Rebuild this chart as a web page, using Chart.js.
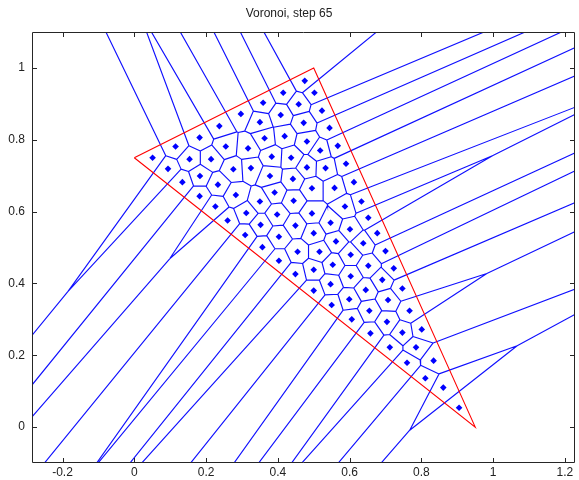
<!DOCTYPE html>
<html>
<head>
<meta charset="utf-8">
<script src="https://cdn.jsdelivr.net/npm/chart.js@4.4.0/dist/chart.umd.min.js"></script>
<style>
  html, body { margin: 0; padding: 0; background: #fff; }
</style>
</head>
<body>
<canvas id="chartVoronoi" width="579" height="480"></canvas>
<script>
// generator points (data units)
const siteX = [0.051, 0.115, 0.182, 0.237, 0.297, 0.359, 0.415, 0.475, 0.502, 0.458,
               0.523, 0.408, 0.350, 0.472, 0.094, 0.154, 0.214, 0.255, 0.183, 0.134,
               0.233, 0.276, 0.419, 0.363, 0.481, 0.317, 0.383, 0.437, 0.518, 0.325,
               0.481, 0.533, 0.442, 0.495, 0.544, 0.567, 0.590, 0.612, 0.182, 0.283,
               0.226, 0.312, 0.260, 0.309, 0.391, 0.558, 0.350, 0.444, 0.633, 0.587,
               0.398, 0.495, 0.547, 0.352, 0.449, 0.601, 0.500, 0.403, 0.378, 0.357,
               0.403, 0.455, 0.516, 0.562, 0.603, 0.449, 0.500, 0.553, 0.547, 0.603,
               0.500, 0.645, 0.652, 0.677, 0.638, 0.700, 0.652, 0.723, 0.691, 0.747,
               0.707, 0.550, 0.599, 0.606, 0.655, 0.767, 0.704, 0.801, 0.658, 0.747,
               0.712, 0.785, 0.834, 0.760, 0.811, 0.861, 0.905];
const siteY = [0.750, 0.781, 0.806, 0.838, 0.872, 0.903, 0.931, 0.964, 0.931, 0.899,
               0.881, 0.869, 0.849, 0.847, 0.719, 0.746, 0.746, 0.781, 0.699, 0.682,
               0.675, 0.718, 0.810, 0.804, 0.795, 0.776, 0.753, 0.750, 0.770, 0.721,
               0.723, 0.721, 0.691, 0.665, 0.833, 0.783, 0.733, 0.682, 0.643, 0.646,
               0.614, 0.596, 0.575, 0.535, 0.653, 0.666, 0.628, 0.630, 0.628, 0.614,
               0.592, 0.595, 0.569, 0.563, 0.561, 0.551, 0.540, 0.530, 0.699, 0.501,
               0.463, 0.488, 0.488, 0.517, 0.480, 0.426, 0.438, 0.452, 0.398, 0.420,
               0.380, 0.382, 0.583, 0.540, 0.512, 0.490, 0.449, 0.442, 0.410, 0.386,
               0.354, 0.340, 0.356, 0.300, 0.324, 0.324, 0.293, 0.272, 0.261, 0.263,
               0.222, 0.222, 0.185, 0.179, 0.136, 0.110, 0.054];

const triangleX = [0, 0.5, 0.95, 0];
const triangleY = [0.75, 1.0, 0, 0.75];

const xTicks = [-0.2, 0, 0.2, 0.4, 0.6, 0.8, 1, 1.2];
const xTickLabels = ["-0.2", "0", "0.2", "0.4", "0.6", "0.8", "1", "1.2"];
const yTicks = [0, 0.2, 0.4, 0.6, 0.8, 1];
const yTickLabels = ["0", "0.2", "0.4", "0.6", "0.8", "1"];
const xRange = [-0.285, 1.228];
const yRange = [-0.1, 1.1];

// voronoi cells: clip a big box by the bisector half-planes of every other site
function voronoiSegments(xs, ys, far) {
    const n = xs.length;
    const seen = new Set();
    const segs = [];
    const side = p => {
        if (Math.abs(p[0] - far) < 1e-9) return 'r';
        if (Math.abs(p[0] + far) < 1e-9) return 'l';
        if (Math.abs(p[1] - far) < 1e-9) return 't';
        if (Math.abs(p[1] + far) < 1e-9) return 'b';
        return null;
    };
    for (let i = 0; i < n; i++) {
        let poly = [[-far, -far], [far, -far], [far, far], [-far, far]];
        for (let j = 0; j < n && poly.length; j++) {
            if (j === i) continue;
            const dx = xs[j] - xs[i], dy = ys[j] - ys[i];
            const mx = (xs[j] + xs[i]) / 2, my = (ys[j] + ys[i]) / 2;
            const f = p => (p[0] - mx) * dx + (p[1] - my) * dy;
            const out = [];
            for (let k = 0; k < poly.length; k++) {
                const a = poly[k], b = poly[(k + 1) % poly.length];
                const fa = f(a), fb = f(b);
                if (fa <= 0) out.push(a);
                if ((fa < 0 && fb > 0) || (fa > 0 && fb < 0)) {
                    const t = fa / (fa - fb);
                    out.push([a[0] + t * (b[0] - a[0]), a[1] + t * (b[1] - a[1])]);
                }
            }
            poly = out;
        }
        for (let k = 0; k < poly.length; k++) {
            const a = poly[k], b = poly[(k + 1) % poly.length];
            const sa = side(a), sb = side(b);
            if (sa && sa === sb) continue;          // piece of the outer box
            if (Math.hypot(a[0] - b[0], a[1] - b[1]) < 1e-9) continue;
            const ka = a[0].toFixed(6) + ',' + a[1].toFixed(6);
            const kb = b[0].toFixed(6) + ',' + b[1].toFixed(6);
            const key = ka < kb ? ka + '|' + kb : kb + '|' + ka;
            if (seen.has(key)) continue;
            seen.add(key);
            segs.push([a, b]);
        }
    }
    return segs;
}

const edgeData = [];
voronoiSegments(siteX, siteY, 20).forEach(([a, b]) => {
    edgeData.push({ x: a[0], y: a[1] }, { x: b[0], y: b[1] }, { x: NaN, y: NaN });
});
const siteData = siteX.map((x, i) => ({ x: x, y: siteY[i] }));
const triangleData = triangleX.map((x, i) => ({ x: x, y: triangleY[i] }));

// matlab style frame with inward ticks
const framePlugin = {
    id: 'frame',
    afterDraw(chart) {
        const ctx = chart.ctx;
        const { left, right, top, bottom } = chart.chartArea;
        const sx = chart.scales.x, sy = chart.scales.y;
        const len = 5;
        ctx.save();
        ctx.strokeStyle = '#262626';
        ctx.lineWidth = 1;
        ctx.beginPath();
        ctx.rect(Math.round(left) + 0.5, Math.round(top) + 0.5,
                 Math.round(right - left) - 1, Math.round(bottom - top) - 1);
        xTicks.forEach(v => {
            const px = Math.round(sx.getPixelForValue(v)) + 0.5;
            ctx.moveTo(px, bottom); ctx.lineTo(px, bottom - len);
            ctx.moveTo(px, top); ctx.lineTo(px, top + len);
        });
        yTicks.forEach(v => {
            const py = Math.round(sy.getPixelForValue(v)) + 0.5;
            ctx.moveTo(left, py); ctx.lineTo(left + len, py);
            ctx.moveTo(right, py); ctx.lineTo(right - len, py);
        });
        ctx.stroke();
        ctx.restore();
    }
};

const tickFont = { family: 'Liberation Sans', size: 12 };

new Chart(document.getElementById('chartVoronoi'), {
    type: 'scatter',
    data: {
        datasets: [
            {
                label: 'sites',
                data: siteData,
                pointStyle: 'rectRot',
                pointRadius: 3.3,
                pointBorderWidth: 0,
                backgroundColor: '#0000ff',
                order: 0
            },
            {
                label: 'triangle',
                data: triangleData,
                showLine: true,
                borderColor: '#ff0000',
                borderWidth: 1.1,
                pointRadius: 0,
                order: 1
            },
            {
                label: 'edges',
                data: edgeData,
                showLine: true,
                spanGaps: false,
                borderColor: '#1010ff',
                borderWidth: 1.15,
                pointRadius: 0,
                order: 2
            }
        ]
    },
    options: {
        responsive: false,
        animation: false,
        devicePixelRatio: 1,
        layout: { padding: { left: 0, right: 1, top: 0, bottom: 0 } },
        plugins: {
            legend: { display: false },
            tooltip: { enabled: false },
            title: {
                display: true,
                text: 'Voronoi, step 65',
                color: '#222',
                font: { family: 'Liberation Sans', size: 12, weight: 'normal' },
                padding: { top: 6, bottom: 11.6 }
            }
        },
        scales: {
            x: {
                type: 'linear',
                min: xRange[0],
                max: xRange[1],
                grid: { display: false, drawTicks: false },
                border: { display: false },
                ticks: {
                    padding: 2,
                    color: '#222',
                    font: tickFont,
                    maxRotation: 0,
                    autoSkip: false,
                    callback: (v, i) => xTickLabels[i]
                },
                afterBuildTicks: s => { s.ticks = xTicks.map(v => ({ value: v })); },
                afterFit: s => { s.height = 17; }
            },
            y: {
                type: 'linear',
                min: yRange[0],
                max: yRange[1],
                grid: { display: false, drawTicks: false },
                border: { display: false },
                ticks: {
                    padding: 7,
                    color: '#222',
                    font: tickFont,
                    autoSkip: false,
                    callback: (v, i) => yTickLabels[i]
                },
                afterBuildTicks: s => { s.ticks = yTicks.map(v => ({ value: v })); },
                afterFit: s => { s.width = 32; }
            }
        }
    },
    plugins: [framePlugin]
});
</script>
</body>
</html>
